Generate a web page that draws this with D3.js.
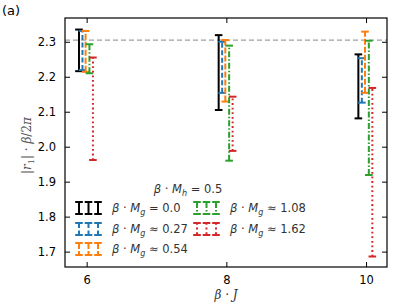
<!DOCTYPE html>
<html>
<head>
<meta charset="utf-8">
<script src="https://cdn.jsdelivr.net/npm/d3@7"></script>
<style>
  body { margin: 0; background: #fff; }
  svg text { font-family: "DejaVu Sans", sans-serif; }
  .math { font-family: "DejaVu Serif", "Liberation Serif", serif; }
</style>
</head>
<body>
<div class="canvas"></div>
<script>
// data
const Js = [6, 8, 10]
const seriesNames = ['0.0', '0.27', '0.54', '1.08', '1.62']
const seriesOps = ['=', '≈', '≈', '≈', '≈']
const lows  = [[2.216, 2.105, 2.081], [2.219, 2.154, 2.126], [2.214, 2.129, 2.154], [2.210, 1.960, 1.919], [1.962, 1.988, 1.686]]
const highs = [[2.335, 2.319, 2.264], [2.331, 2.300, 2.253], [2.331, 2.305, 2.329], [2.293, 2.289, 2.303], [2.255, 2.143, 2.168]]
const offsets = [-0.11, -0.06, -0.015, 0.04, 0.09]
const colors = ['#000000', '#1f77b4', '#ff7f0e', '#2ca02c', '#d62728']
const dashes = [null, '5,2.5', '6,2', '6,2,1.5,2', '1.8,2.8']
const refLine = 2.305
const yTicks = [1.7, 1.8, 1.9, 2.0, 2.1, 2.2, 2.3]
const xTicks = [6, 8, 10]

const W = 407, H = 305
const margin = {top: 18, right: 20, bottom: 38, left: 65}
const gw = W - margin.left - margin.right
const gh = H - margin.top - margin.bottom

const svg = d3.select('.canvas').append('svg').attr('width', W).attr('height', H)
const graph = svg.append('g').attr('transform', `translate(${margin.left}, ${margin.top})`)

const x = d3.scaleLinear().domain([5.69, 10.30]).range([0, gw])
const y = d3.scaleLinear().domain([1.656, 2.368]).range([gh, 0])

// reference line
graph.append('line')
    .attr('x1', 0).attr('x2', gw)
    .attr('y1', y(refLine)).attr('y2', y(refLine))
    .attr('stroke', '#a0a0a0').attr('stroke-width', 1.3).attr('stroke-dasharray', '5,3')

// error bars
const capW = 3.8
seriesNames.forEach((name, s) => {
    const g = graph.append('g')
    Js.forEach((J, i) => {
        const cx = x(J + offsets[s])
        g.append('line')
            .attr('x1', cx).attr('x2', cx)
            .attr('y1', y(lows[s][i])).attr('y2', y(highs[s][i]))
            .attr('stroke', colors[s]).attr('stroke-width', 2)
            .attr('stroke-dasharray', dashes[s])
        ;[lows[s][i], highs[s][i]].forEach(v => {
            g.append('line')
                .attr('x1', cx - capW).attr('x2', cx + capW)
                .attr('y1', y(v)).attr('y2', y(v))
                .attr('stroke', colors[s]).attr('stroke-width', 2)
        })
    })
})

// axes with inward ticks on all sides
const tl = 5
const xAxisB = d3.axisBottom(x).tickValues(xTicks).tickSizeInner(-tl).tickSizeOuter(0).tickPadding(tl + 4).tickFormat(d3.format('d'))
const xAxisT = d3.axisTop(x).tickValues(xTicks).tickSizeInner(-tl).tickSizeOuter(0).tickFormat('')
const yAxisL = d3.axisLeft(y).tickValues(yTicks).tickSizeInner(-tl).tickSizeOuter(0).tickPadding(tl + 4).tickFormat(d3.format('.1f'))
const yAxisR = d3.axisRight(y).tickValues(yTicks).tickSizeInner(-tl).tickSizeOuter(0).tickFormat('')

graph.append('g').attr('transform', `translate(0, ${gh})`).call(xAxisB)
graph.append('g').call(xAxisT)
graph.append('g').call(yAxisL)
graph.append('g').attr('transform', `translate(${gw}, 0)`).call(yAxisR)
graph.selectAll('.domain').remove()
graph.selectAll('.tick line').attr('stroke', '#000').attr('stroke-width', 1)
graph.selectAll('.tick text').attr('font-size', 11.5).attr('fill', '#000')
    .attr('font-family', '"DejaVu Sans", sans-serif')

graph.append('rect').attr('width', gw).attr('height', gh)
    .attr('fill', 'none').attr('stroke', '#000').attr('stroke-width', 1.2)

// axis labels
svg.append('text').attr('class', 'math')
    .attr('x', margin.left + gw / 2).attr('y', H - 6)
    .attr('text-anchor', 'middle').attr('font-size', 12).attr('fill', '#333')
    .html('<tspan font-style="italic">β</tspan> · <tspan font-style="italic">J</tspan>')

svg.append('text').attr('class', 'math')
    .attr('transform', `translate(31, ${margin.top + gh / 2 + 3}) rotate(-90)`)
    .attr('text-anchor', 'middle').attr('font-size', 12).attr('fill', '#555')
    .html('|<tspan font-style="italic">r</tspan><tspan font-size="8" dy="3">1</tspan><tspan dy="-3">| · </tspan><tspan font-style="italic">β</tspan>/2<tspan font-style="italic">π</tspan>')

svg.append('text').attr('x', 2).attr('y', 15).attr('font-size', 13).attr('fill', '#000').text('(a)')

// legend
const legend = svg.append('g').attr('class', 'math')
legend.append('text').attr('x', 188).attr('y', 193).attr('text-anchor', 'middle')
    .attr('font-size', 11.5).attr('fill', '#333')
    .html('<tspan font-style="italic">β</tspan> · <tspan font-style="italic">M</tspan><tspan font-size="8" dy="3" font-style="italic">h</tspan><tspan dy="-3"> = 0.5</tspan>')

const legPos = [[77, 208], [77, 229], [77, 249], [195, 208], [195, 229]]
seriesNames.forEach((name, s) => {
    const [lx, ly] = legPos[s]
    const hg = legend.append('g')
    ;[0, 1, 2].forEach(k => {
        const cx = lx + 2 + k * 9.5
        hg.append('line').attr('x1', cx).attr('x2', cx).attr('y1', ly - 6).attr('y2', ly + 6)
            .attr('stroke', colors[s]).attr('stroke-width', 2).attr('stroke-dasharray', dashes[s])
        ;[ly - 6, ly + 6].forEach(yy => {
            hg.append('line').attr('x1', cx - capW).attr('x2', cx + capW).attr('y1', yy).attr('y2', yy)
                .attr('stroke', colors[s]).attr('stroke-width', 2)
        })
    })
    legend.append('text').attr('x', lx + 35).attr('y', ly + 4)
        .attr('font-size', 11.5).attr('fill', '#333')
        .html(`<tspan font-style="italic">β</tspan> · <tspan font-style="italic">M</tspan><tspan font-size="8" dy="3" font-style="italic">g</tspan><tspan dy="-3"> ${seriesOps[s]} ${name}</tspan>`)
})
</script>
</body>
</html>
